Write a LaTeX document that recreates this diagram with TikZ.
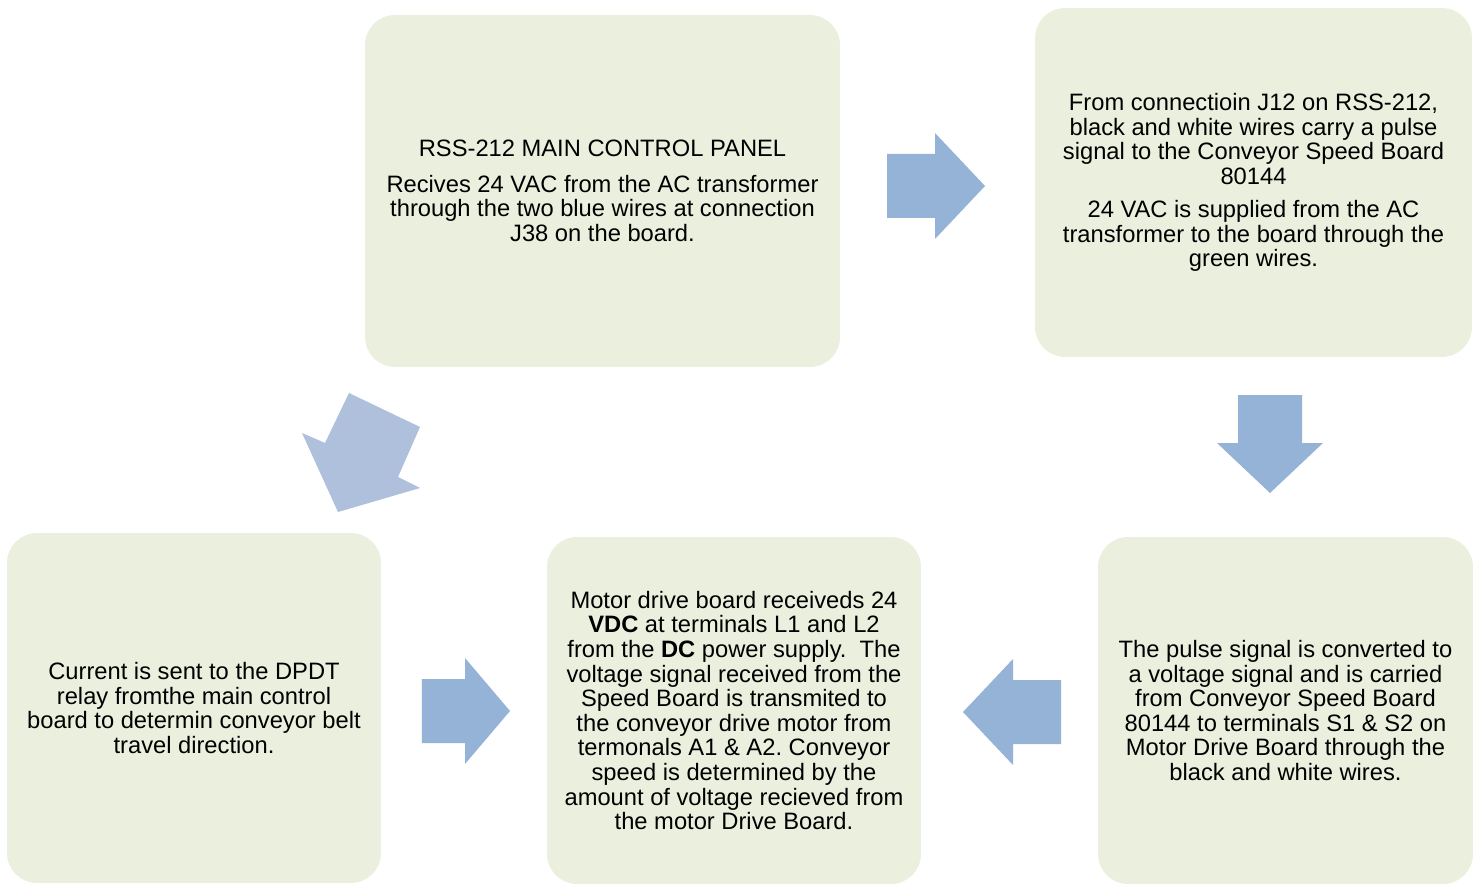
\documentclass[tikz,border=0pt]{standalone}
\usepackage{xcolor}
\usepackage{fontspec}
\setmainfont{Liberation Sans}
\usetikzlibrary{positioning}
\definecolor{panelfill}{HTML}{EBEFDE}
\definecolor{arrowblue}{HTML}{95B3D7}
\definecolor{arrowpale}{HTML}{AFC0DC}
\frenchspacing

\begin{document}
\begin{tikzpicture}[
                x=0.02cm, y=-0.02cm,
                panel/.style={rectangle, rounded corners=0.6cm, fill=panelfill, align=center,
                              inner sep=0pt, font=\fontsize{13.5}{14}\selectfont},
                flowarrow/.style={fill=arrowblue},
                blockarrow/.pic={\fill[flowarrow] (-48,-32) -- (0,-32) -- (0,-53) -- (50,0) -- (0,53) -- (0,32) -- (-48,32) -- cycle;}
            ]
                \useasboundingbox[fill=white] (0,0) rectangle (1481,885);

                % Panels
                \node[panel, minimum width=9.5cm, minimum height=7.04cm] (main) at (602.5,191)
                    {RSS-212 MAIN CONTROL PANEL\\[6pt]
                     Recives 24 VAC from the AC transformer\\
                     through the two blue wires at connection\\
                     J38 on the board.};
                \node[panel, minimum width=8.74cm, minimum height=6.98cm] (speed) at (1253.5,182.5)
                    {From connectioin J12 on RSS-212,\\
                     black and white wires carry a pulse\\
                     signal to the Conveyor Speed Board\\
                     80144\\[5pt]
                     24 VAC is supplied from the AC\\
                     transformer to the board through the\\
                     green wires.};
                \node[panel, minimum width=7.5cm, minimum height=6.94cm] (pulse) at (1285.5,710.5)
                    {The pulse signal is converted to\\
                     a voltage signal and is carried\\
                     from Conveyor Speed Board\\
                     80144 to terminals S1 \& S2 on\\
                     Motor Drive Board through the\\
                     black and white wires.};
                \node[panel, minimum width=7.48cm, minimum height=6.94cm] (motor) at (734,710.5)
                    {Motor drive board receiveds 24\\
                     \textbf{VDC} at terminals L1 and L2\\
                     from the \textbf{DC} power supply.\ \ The\\
                     voltage signal received from the\\
                     Speed Board is transmited to\\
                     the conveyor drive motor from\\
                     termonals A1 \& A2. Conveyor\\
                     speed is determined by the\\
                     amount of voltage recieved from\\
                     the motor Drive Board.};
                \node[panel, minimum width=7.48cm, minimum height=7cm] (relay) at (194,708)
                    {Current is sent to the DPDT\\
                     relay fromthe main control\\
                     board to determin conveyor belt\\
                     travel direction.};

                % Arrows
                \pic at (935,186) {blockarrow};
                \pic[rotate=-90] at (1270,443) {blockarrow};
                \pic[rotate=180] at (1013,712) {blockarrow};
                \pic[xscale=0.9] at (465,711) {blockarrow};
                \fill[arrowpale] (349,393) -- (420,427) -- (398,477) -- (420,488)
                    -- (338,512) -- (302,433) -- (325,443) -- cycle;
            \end{tikzpicture}
\end{document}
